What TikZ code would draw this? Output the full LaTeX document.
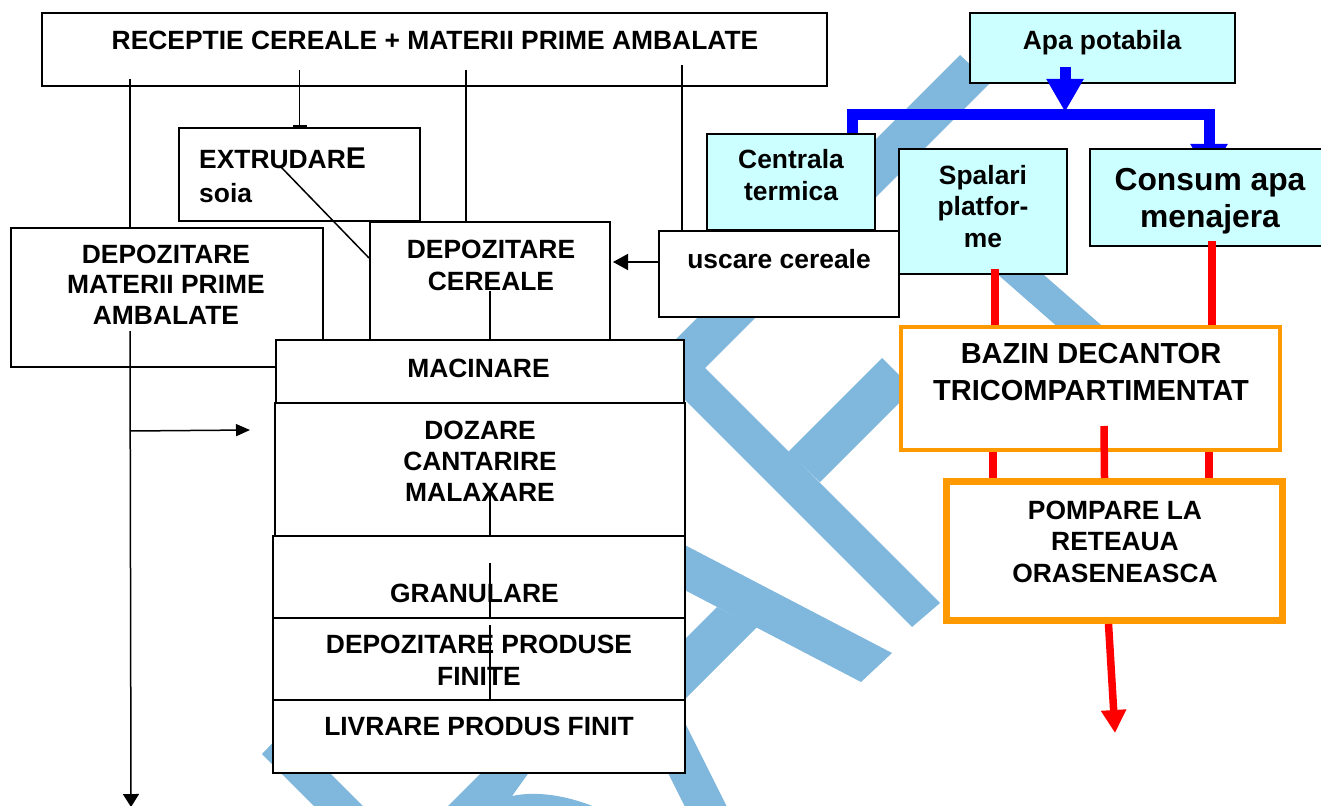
\documentclass[tikz,border=0pt]{standalone}
\usepackage{fontspec}
\setmainfont{Liberation Sans}
\usetikzlibrary{arrows.meta,calc}
\definecolor{wmc}{RGB}{128,183,221}
\definecolor{cyc}{RGB}{204,255,255}
\definecolor{orc}{RGB}{255,153,0}
\pgfdeclarelayer{wmlayer}
\pgfdeclarelayer{bglayer}
\pgfsetlayers{wmlayer,bglayer,main}
\newcommand{\mlc}[1]{\begin{tabular}[t]{@{}c@{}}#1\end{tabular}}
\newcommand{\mll}[1]{\begin{tabular}[t]{@{}l@{}}#1\end{tabular}}
\newcommand{\myfs}[2]{\fontsize{#1}{#2}\selectfont\bfseries}
\begin{document}
\begin{tikzpicture}[x=1pt,y=-1pt,
 box/.style={rectangle, draw=black, line width=2pt, fill=white, inner sep=0pt},
 cbox/.style={box, fill=cyc},
 obox/.style={rectangle, draw=orc, fill=white, inner sep=0pt},
 txt/.style={inner sep=0pt, anchor=base, font=\myfs{26.4}{31}},
 ln/.style={draw=black, line width=1.5pt},
 rl/.style={draw=red, line width=7.5pt},
 bl/.style={draw=blue, line width=11pt},
 wmk/.style={fill=wmc}]
\useasboundingbox (0,0) rectangle (1321,805);

% ---------- boxes ----------
\node[box, minimum width=785, minimum height=73] (rec) at (434.5,49.5) {};
\node[box, minimum width=241, minimum height=93] (ext) at (299.5,174.5) {};
\node[box, minimum width=312.5, minimum height=139] (dmp) at (166.75,297.5) {};
\node[box, minimum width=240, minimum height=118] (dce) at (490,281) {};
\node[box, minimum width=240, minimum height=86] (usc) at (779,274) {};
\node[cbox, minimum width=168, minimum height=96] (cen) at (791,182) {};
\node[cbox, minimum width=168, minimum height=125] (spa) at (983,211.5) {};
\node[cbox, minimum width=233, minimum height=97] (con) at (1206.5,197.5) {};
\node[cbox, minimum width=265, minimum height=70] (apa) at (1102.5,48) {};
\node[obox, line width=4pt, minimum width=379, minimum height=123] (baz) at (1090.5,388.5) {};
\node[obox, line width=7pt, minimum width=336, minimum height=139] (pom) at (1114.5,551) {};
\node[box, minimum width=408, minimum height=63] (mac) at (480,371.5) {};
\node[box, minimum width=410, minimum height=133] (doz) at (480,469.5) {};
\node[box, minimum width=412, minimum height=82] (gra) at (479,577) {};
\node[box, minimum width=412, minimum height=82] (dpf) at (479,659) {};
\node[box, minimum width=412, minimum height=73] (liv) at (479,736.5) {};

% ---------- texts ----------
\node[txt] (recT) at (435,50) {RECEPTIE CEREALE + MATERII PRIME AMBALATE};
\node[txt, anchor=base west, font=\myfs{26.4}{34}] (extT) at (199,168) {\mll{EXTRUDAR{\fontsize{30}{34}\selectfont E}\\soia}};
\node[txt, font=\myfs{26.4}{30.5}] (dmpT) at (166,263) {\mlc{DEPOZITARE\\MATERII PRIME\\AMBALATE}};
\node[txt, font=\myfs{26.4}{32}] (dceT) at (491,258) {\mlc{DEPOZITARE\\CEREALE}};
\node[txt] (macT) at (478.5,377) {MACINARE};
\node[txt] (dozT) at (480,439) {\mlc{DOZARE\\CANTARIRE\\MALAXARE}};
\node[txt] (graT) at (474.5,602) {GRANULARE};
\node[txt, font=\myfs{26.4}{32}] (dpfT) at (479,653) {\mlc{DEPOZITARE PRODUSE\\FINITE}};
\node[txt] (livT) at (479,735) {LIVRARE PRODUS FINIT};
\node[txt] (uscT) at (779,268) {uscare cereale};
\node[txt, font=\myfs{26.4}{32}] (cenT) at (791,169) {\mlc{Centrala\\termica}};
\node[txt, font=\myfs{26.4}{31.5}] (spaT) at (983,184) {\mlc{Spalari\\platfor-\\me}};
\node[txt, font=\myfs{31.8}{37}] (conT) at (1210,190) {\mlc{Consum apa\\menajera}};
\node[txt] (apaT) at (1102,50) {Apa potabila};
\node[txt, font=\myfs{29}{37}] (bazT) at (1091,363) {\mlc{BAZIN DECANTOR\\TRICOMPARTIMENTAT}};
\node[txt, font=\myfs{26.4}{31.5}] (pomT) at (1115,519) {\mlc{POMPARE LA\\RETEAUA\\ORASENEASCA}};

% ---------- black connectors ----------
\draw[ln, -{Bar[width=14pt]}] ($(ext.north)+(0,-57)$) -- (ext.north);
\draw[ln] ($(dmp.north west)+(120.5,-148)$) -- ($(dmp.north west)+(120.5,0)$);
\draw[ln] ($(dce.north west)+(97,-151)$) -- ($(dce.north west)+(97,0)$);
\draw[ln] ($(usc.north west)+(24,-165)$) -- ($(usc.north west)+(24,0)$);
\draw[ln] ($(ext.north west)+(103,40)$) -- ($(dce.west)+(0,-23)$);
\draw[ln] ($(dce.south)+(0,-50)$) -- (dce.south);
\draw[ln, -{Triangle[width=16pt,length=15pt]}] ($(usc.west)+(0,-12)$) -- ($(dce.east)+(2,-19)$);
\coordinate (out1) at (131,807);
\coordinate (dozin) at (250,430);
\draw[ln, -{Triangle[width=16pt,length=13pt]}] ($(dmp.south west)+(120.5,-37)$) -- (out1);
\draw[ln, -{Triangle[width=12pt,length=14pt]}] ($(dmp.south west)+(120.5,63)$) -- (dozin);
\draw[ln] ($(gra.north west)+(218,-43)$) -- ($(gra.north west)+(218,0)$);
\draw[ln] ($(dpf.north west)+(218,-54)$) -- ($(dpf.north west)+(218,0)$);
\draw[ln] ($(liv.north west)+(218,-74)$) -- ($(liv.north west)+(218,0)$);

% ---------- water connectors ----------
\begin{pgfonlayer}{bglayer}
\draw[bl, line join=miter, -{Triangle[width=35pt,length=33pt]}] ($(cen.north east)+(-24,6)$) |- ($(con.north west)+(120,-33)$) -- ($(con.north west)+(120,29)$);
\end{pgfonlayer}
\draw[bl, -{Triangle[width=35pt,length=33pt]}] ($(apa.south west)+(96,-17)$) -- ($(apa.south west)+(96,28)$);

\coordinate (r1) at ($(spa.south)+(12,-6)$);
\coordinate (r2) at ($(con.south)+(5.5,-6)$);
\coordinate (r3) at ($(baz.south west)+(94,0)$);
\coordinate (r4) at ($(baz.south west)+(205,-26)$);
\coordinate (r5) at ($(baz.south west)+(310,0)$);
\coordinate (out2) at (1115,733);
\draw[rl] (r1) -- (r1 |- baz.north);
\draw[rl] (r2) -- (r2 |- baz.north);
\draw[rl] (r3) -- (r3 |- pom.north);
\draw[rl] (r4) -- ($(pom.north west)+(161.5,0)$);
\draw[rl] (r5) -- (r5 |- pom.north);
\draw[rl, -{Triangle[width=24pt,length=23pt]}] ($(pom.south west)+(165.5,0)$) -- (out2);

% ---------- watermark ----------
\begin{pgfonlayer}{wmlayer}
\fill[white] (0,0) rectangle (1321,805);
\fill[wmk] (960,55) -- (990,83) -- (705,368) -- (940,603) -- (912,627) -- (650,365) -- cycle;
\fill[wmk] (788,452) -- (882,358) -- (913,389) -- (820,482) -- cycle;
\fill[wmk] (939.7,183.7) -- (1112.6,335.1) -- (1092.8,357.7) -- (919.9,206.3) -- cycle;
\fill[wmk] (560,480) -- (892,653) -- (861,682) -- (560,525) -- cycle;
\fill[wmk] (717,607) -- (757,627) -- (644,740) -- (604,720) -- cycle;
\fill[wmk] (262,754) -- (286,729) -- (377,820) -- (328,820) -- cycle;
\fill[wmk] (436,818) -- (508,746) -- (548,746) -- (512,796) .. controls (540,790) and (575,797) .. (606,812) -- (606,818) -- cycle;
\fill[wmk] (621.5,680) -- (663.5,680) -- (733.5,820) -- (691.5,820) -- cycle;
\end{pgfonlayer}
\end{tikzpicture}
\end{document}
